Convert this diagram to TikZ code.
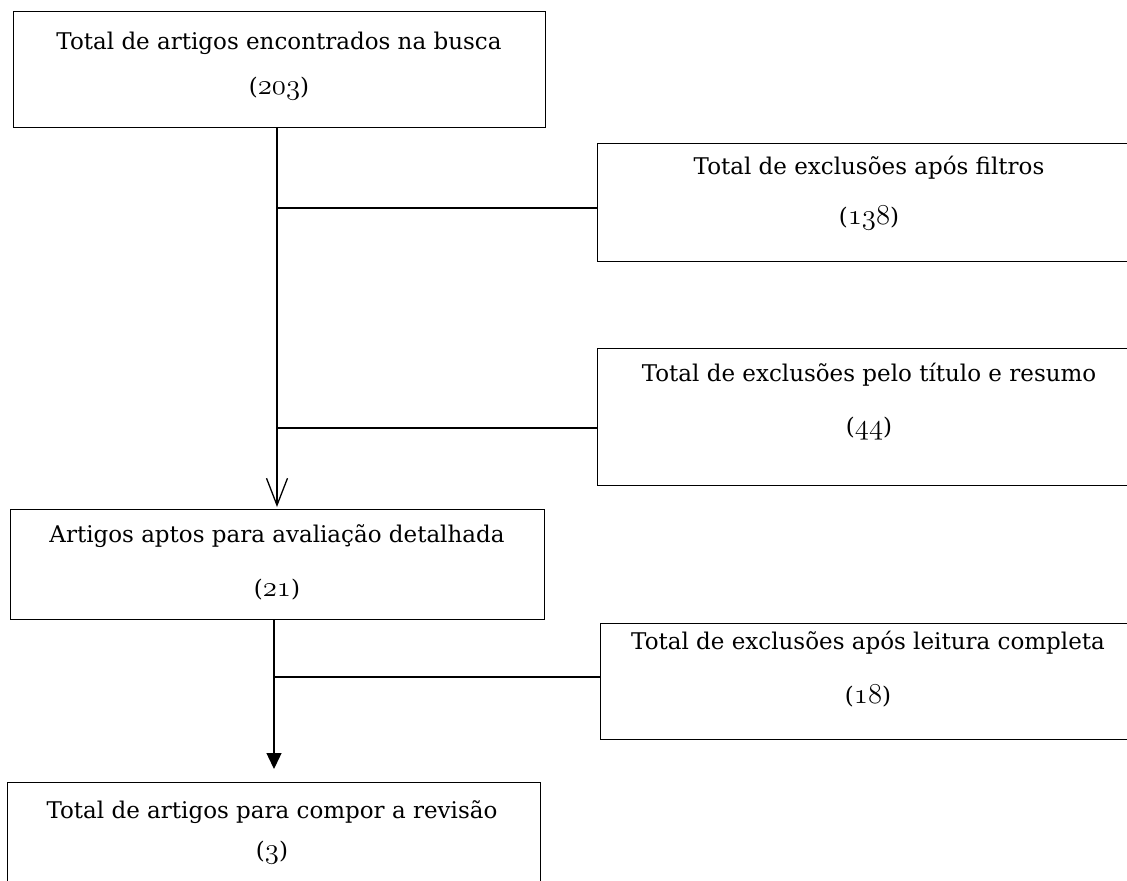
\documentclass[tikz,border=0pt]{standalone}
\usepackage{fontspec}
\setmainfont{DejaVu Serif}
\usetikzlibrary{arrows.meta}
\newcommand{\osnum}[1]{{\fontsize{14.5}{14.5}\usefont{OML}{cmm}{m}{it}#1}}
\begin{document}
\begin{tikzpicture}[x=0.5pt,y=-0.5pt,
  boxstyle/.style={draw, line width=0.65pt, inner sep=0pt, anchor=north west},
  txt/.style={font=\fontsize{11.5}{14}\selectfont, inner sep=0pt, anchor=center},
  conn/.style={line width=0.65pt}]
\useasboundingbox (0,0) rectangle (1127,880);
\clip (0,0) rectangle (1127,880);

% boxes
\node[boxstyle, minimum width=266pt, minimum height=58pt] (b1) at (13,11) {};
\node[boxstyle, minimum width=273pt, minimum height=59pt] (b2) at (597,143) {};
\node[boxstyle, minimum width=273pt, minimum height=68.5pt] (b3) at (597,348) {};
\node[boxstyle, minimum width=267pt, minimum height=55pt] (b4) at (10,509) {};
\node[boxstyle, minimum width=271.5pt, minimum height=58pt] (b5) at (600,623) {};
\node[boxstyle, minimum width=266.5pt, minimum height=59pt] (b6) at (7,782) {};

% texts
\node[txt] (t1a) at (279,43) {Total de artigos encontrados na busca};
\node[txt] (t1b) at (279,89) {(\osnum{203})};
\node[txt] (t2a) at (869,168) {Total de exclusões após filtros};
\node[txt] (t2b) at (869,218) {(\osnum{138})};
\node[txt] (t3a) at (869,375) {Total de exclusões pelo título e resumo};
\node[txt] (t3b) at (869,429) {(\osnum{44})};
\node[txt] (t4a) at (277,536) {Artigos aptos para avaliação detalhada};
\node[txt] (t4b) at (277,590) {(\osnum{21})};
\node[txt] (t5a) at (868,643) {Total de exclusões após leitura completa};
\node[txt] (t5b) at (868,696) {(\osnum{18})};
\node[txt] (t6a) at (272,812) {Total de artigos para compor a revisão};
\node[txt] (t6b) at (272,853) {(\osnum{3})};

% junctions and tips
\coordinate (j1) at (277,208);
\coordinate (j2) at (277,428);
\coordinate (tip1) at (277,507);
\coordinate (j3) at (274,677);
\coordinate (tip2) at (274,769);

% connectors
\draw[conn, -{Straight Barb[length=13.5pt,width=10.5pt]}] (j1 |- b1.south) -- (tip1);
\draw[conn] (j1) -- (j1 -| b2.west);
\draw[conn] (j2) -- (j2 -| b3.west);
\draw[conn, -{Triangle[length=8pt,width=7.5pt]}] (j3 |- b4.south) -- (tip2);
\draw[conn] (j3) -- (j3 -| b5.west);
\end{tikzpicture}
\end{document}
